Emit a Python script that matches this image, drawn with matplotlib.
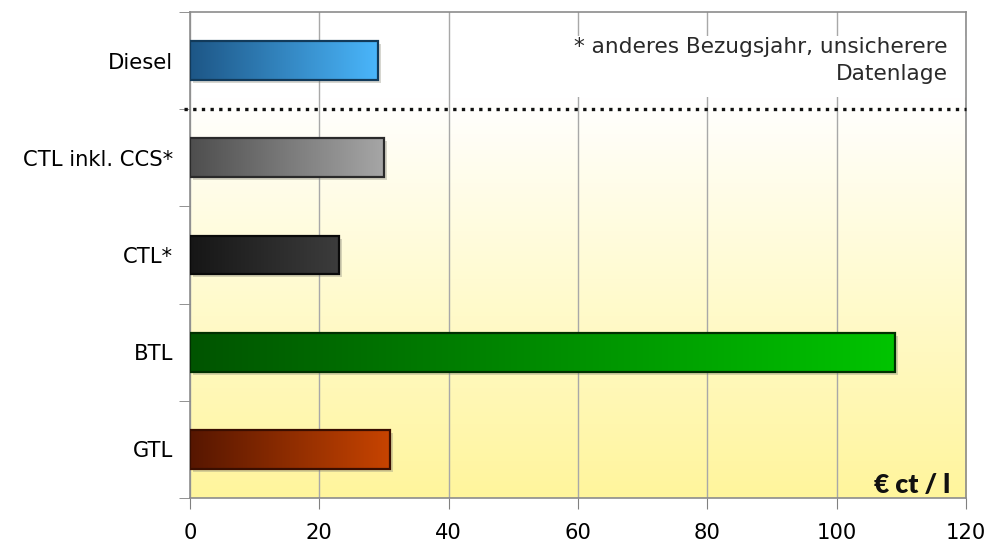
import numpy as np
import matplotlib
matplotlib.use("Agg")
import matplotlib.pyplot as plt
from matplotlib.colors import LinearSegmentedColormap
from matplotlib.patches import Rectangle
from matplotlib.transforms import ScaledTranslation

# === DATA ===
fuels = ["Diesel", "CTL inkl. CCS*", "CTL*", "BTL", "GTL"]
costs = [29, 30, 23, 109, 31]          # € ct / l
x_ticks = [0, 20, 40, 60, 80, 100, 120]

# left -> right colour of each bar gradient
bar_colors = [
    ("#1d5686", "#4ab6fb"),
    ("#4e4e4e", "#a6a6a6"),
    ("#161616", "#3c3c3c"),
    ("#005400", "#00c400"),
    ("#561600", "#c84400"),
]
edge_colors = ["#123a5a", "#2a2a2a", "#0a0a0a", "#013001", "#3a0e00"]

note = "* anderes Bezugsjahr, unsicherere\nDatenlage"
unit = "€ ct / l"

BAR_H = 0.40
GRID = "#a8a8a8"
FS = 15.2


def gradient_bar(ax, y, value, c0, c1, edge):
    fig = ax.figure
    # soft drop shadow
    shadow = Rectangle((0, y - BAR_H / 2), value, BAR_H,
                       facecolor="#8a8a7a", edgecolor="none", alpha=0.35,
                       transform=ax.transData + ScaledTranslation(3 / 100, -3 / 100, fig.dpi_scale_trans),
                       zorder=2)
    ax.add_patch(shadow)
    cmap = LinearSegmentedColormap.from_list("g", [c0, c1])
    grad = np.linspace(0, 1, 256).reshape(1, -1)
    ax.imshow(grad, cmap=cmap, aspect="auto", interpolation="bicubic",
              extent=(0, value, y + BAR_H / 2, y - BAR_H / 2), zorder=3)
    ax.add_patch(Rectangle((0, y - BAR_H / 2), value, BAR_H, facecolor="none",
                           edgecolor=edge, linewidth=1.6, zorder=4))


fig = plt.figure(figsize=(9.86, 5.43), dpi=100)
ax = fig.add_axes([190 / 986, 1 - 498 / 543, 776 / 986, 486 / 543])

# background: white at the top fading into pale yellow
bg = LinearSegmentedColormap.from_list(
    "bg", [(0, "#fff59c"), (0.45, "#fffbd2"), (0.75, "#fffef6"), (0.82, "#ffffff"), (1, "#ffffff")])
ax.imshow(np.linspace(0, 1, 256).reshape(-1, 1), cmap=bg,
          aspect="auto", origin="lower", extent=(0, 1, 0, 1), transform=ax.transAxes, zorder=0)

for i, (fuel, val) in enumerate(zip(fuels, costs)):
    gradient_bar(ax, i, val, *bar_colors[i], edge_colors[i])

ax.set_xlim(0, 120)
ax.set_ylim(len(fuels) - 0.5, -0.5)

ax.set_xticks(x_ticks)
ax.set_yticks(range(len(fuels)))
ax.set_yticklabels(fuels)
ax.set_yticks(np.arange(-0.5, len(fuels)), minor=True)
ax.tick_params(axis="y", which="major", length=0, pad=12, labelsize=FS)
ax.tick_params(axis="y", which="minor", length=8, color="#808080")
ax.tick_params(axis="x", length=8, color="#808080", pad=10, labelsize=FS)

ax.xaxis.grid(True, color=GRID, linewidth=1)
ax.set_axisbelow(True)
for side in ["top", "right", "left", "bottom"]:
    ax.spines[side].set_color("#8c8c8c")
    ax.spines[side].set_linewidth(1.2)

# separator between reference fuel and synthetic fuels
ax.plot([-1, 120], [0.5, 0.5], linestyle=(0, (1, 1.6)), color="#111111",
        linewidth=2.4, clip_on=False, zorder=5)

# note in a white box in the upper right corner
ax.add_patch(Rectangle((0.483, 0.825), 0.517, 0.125, transform=ax.transAxes,
                       facecolor="white", edgecolor="none", zorder=1))
ax.text(0.976, 0.9, note, transform=ax.transAxes, ha="right", va="center",
        fontsize=15.6, color="#2a2a2a", linespacing=1.4, zorder=6)

ax.text(0.9795, 0.027, unit, transform=ax.transAxes, ha="right", va="center",
        fontsize=19, fontweight="heavy", family="Lato", color="#111111", zorder=6)

fig.savefig("out.png", dpi=100)
